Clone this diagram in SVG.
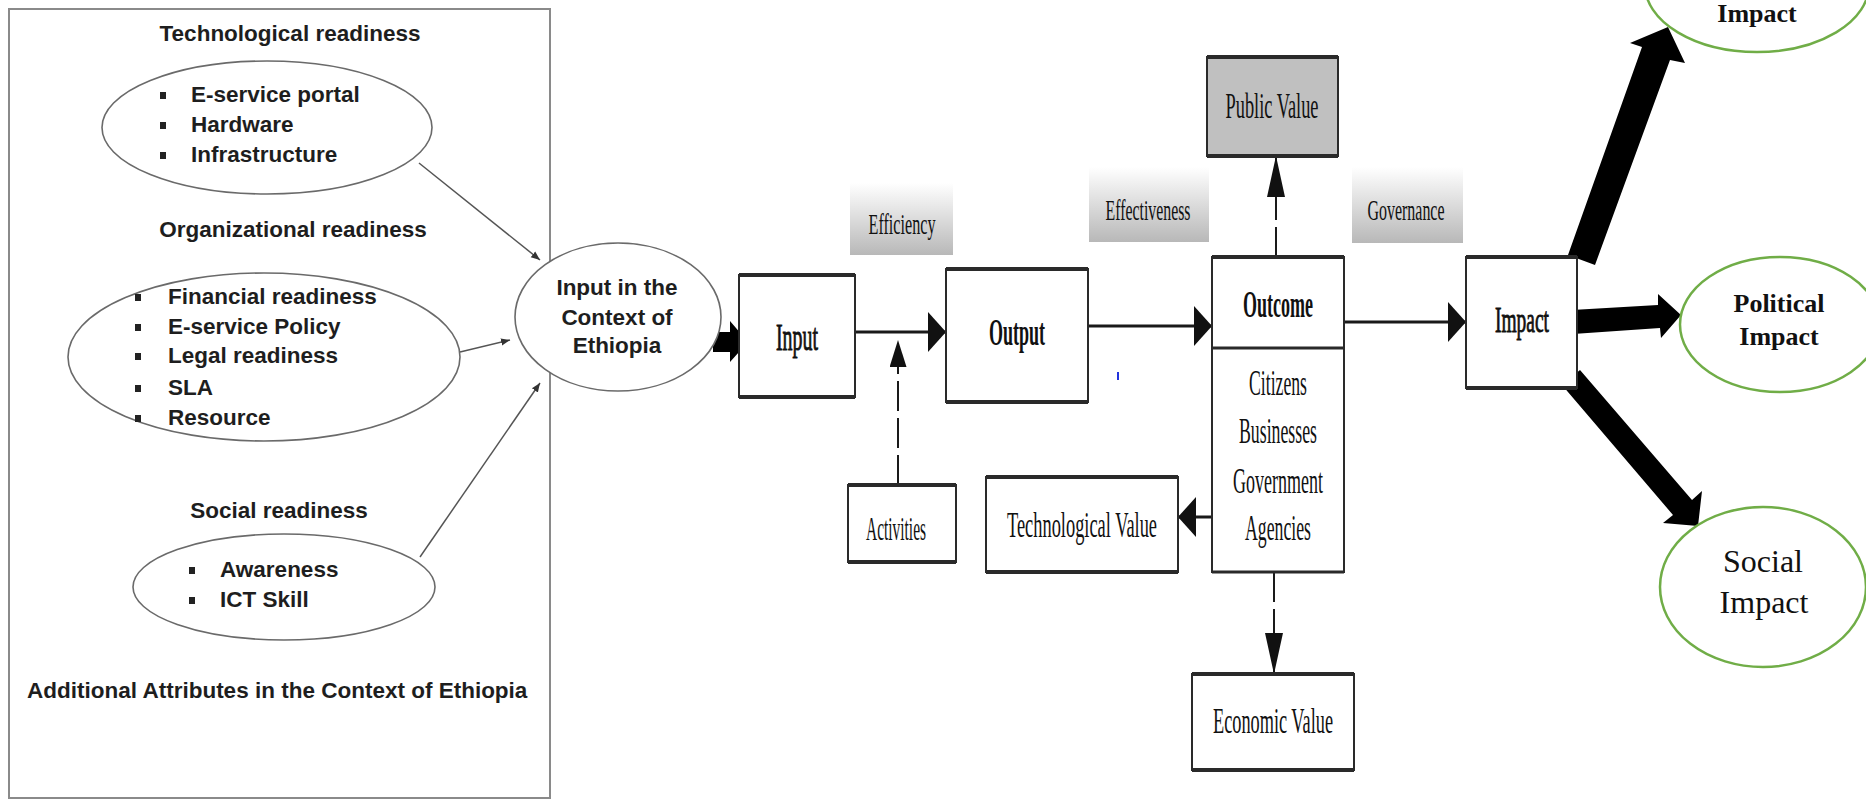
<svg xmlns="http://www.w3.org/2000/svg" width="1866" height="801" viewBox="0 0 1866 801">
<defs>
<style>
.sans{font-family:"Liberation Sans",Arial,sans-serif;font-weight:bold;font-size:22.5px;fill:#1e1e1e}
.serif{font-family:"Liberation Serif","Times New Roman",serif;fill:#111}
.mid{text-anchor:middle}
.med{stroke:#111;stroke-width:0.9}
.oval{fill:#fff;stroke:#6a6a6a;stroke-width:1.6}
.green{fill:#fff;stroke:#70ad47;stroke-width:2.5}
.box{fill:#fff;stroke:#2a2a2a;stroke-width:2}
.edge{stroke:#2a2a2a;stroke-width:4}
.thin{fill:none;stroke:#555;stroke-width:1.5}
.main{fill:none;stroke:#1a1a1a;stroke-width:3}
.dash{fill:none;stroke:#1a1a1a;stroke-width:2;stroke-dasharray:30 7}
.lbl{fill:url(#lg)}
</style>
<linearGradient id="lg" x1="0" y1="0" x2="0" y2="1">
<stop offset="0" stop-color="#ffffff"/>
<stop offset="1" stop-color="#b8b8b8"/>
</linearGradient>
<marker id="sm" viewBox="0 0 10 10" refX="10" refY="5" markerWidth="9" markerHeight="9" markerUnits="userSpaceOnUse" orient="auto">
<path d="M0,1 L10,5 L0,9 z" fill="#333"/>
</marker>
<marker id="big" viewBox="0 0 18 40" refX="18" refY="20" markerWidth="18" markerHeight="40" markerUnits="userSpaceOnUse" orient="auto">
<path d="M0,0 L18,20 L0,40 z" fill="#111"/>
</marker>
<marker id="tall" viewBox="0 0 41 18" refX="41" refY="9" markerWidth="41" markerHeight="18" markerUnits="userSpaceOnUse" orient="auto">
<path d="M0,0 L41,9 L0,18 z" fill="#111"/>
</marker>
<marker id="short" viewBox="0 0 27 17" refX="27" refY="8.5" markerWidth="27" markerHeight="17" markerUnits="userSpaceOnUse" orient="auto">
<path d="M0,0 L27,8.5 L0,17 z" fill="#111"/>
</marker>
</defs>

<g id="panel">
<rect x="9" y="9" width="541" height="789" fill="#fff" stroke="#8a8a8a" stroke-width="2"/>
<text class="sans mid" x="290" y="41">Technological readiness</text>
<text class="sans mid" x="293" y="237">Organizational readiness</text>
<text class="sans mid" x="279" y="518">Social readiness</text>
<text class="sans" x="27" y="698">Additional Attributes in the Context of Ethiopia</text>
</g>

<g id="connectors">
<path class="thin" d="M419,163 L540,260" marker-end="url(#sm)"/>
<path class="thin" d="M460,352 L510,340" marker-end="url(#sm)"/>
<path class="thin" d="M420,557 L540,383" marker-end="url(#sm)"/>
<polygon points="713,332 730,332 730,321 748,342 730,362 730,352 713,352" fill="#000"/>
<path class="main" d="M855,332 H946" marker-end="url(#big)"/>
<path class="main" d="M1088,326 H1212" marker-end="url(#big)"/>
<path class="main" d="M1344,322 H1466" marker-end="url(#big)"/>
<path class="main" d="M1212,517 H1178" marker-end="url(#big)"/>
<path class="dash" d="M898,485 V340" marker-end="url(#short)"/>
<path class="dash" d="M1276,257 V156" marker-end="url(#tall)"/>
<path class="dash" d="M1274,572 V674" marker-end="url(#tall)"/>
<polygon points="1568,255 1642,47 1630,43 1668,27 1685,63 1670,60 1595,265" fill="#000"/>
<polygon points="1572,310 1658,305 1658,294 1681,315 1661,338 1660,328 1573,334" fill="#000"/>
<polygon points="1562,385 1673,515 1663,523 1698,526 1702,491 1692,500 1580,370" fill="#000"/>
<line x1="1118" y1="372" x2="1118" y2="380" stroke="#2233dd" stroke-width="2"/>
</g>

<g id="tech-readiness">
<ellipse class="oval" cx="267" cy="127.5" rx="165" ry="66.5"/>
<rect x="160" y="92" width="6" height="7" fill="#222"/>
<rect x="160" y="122" width="6" height="7" fill="#222"/>
<rect x="160" y="152" width="6" height="7" fill="#222"/>
<text class="sans" x="191" y="102">E-service portal</text>
<text class="sans" x="191" y="132">Hardware</text>
<text class="sans" x="191" y="162">Infrastructure</text>
</g>

<g id="org-readiness">
<ellipse class="oval" cx="264" cy="357" rx="196" ry="84"/>
<rect x="135" y="294" width="6" height="7" fill="#222"/>
<rect x="135" y="324" width="6" height="7" fill="#222"/>
<rect x="135" y="353" width="6" height="7" fill="#222"/>
<rect x="135" y="385" width="6" height="7" fill="#222"/>
<rect x="135" y="415" width="6" height="7" fill="#222"/>
<text class="sans" x="168" y="304">Financial readiness</text>
<text class="sans" x="168" y="334">E-service Policy</text>
<text class="sans" x="168" y="363">Legal readiness</text>
<text class="sans" x="168" y="395">SLA</text>
<text class="sans" x="168" y="425">Resource</text>
</g>

<g id="social-readiness">
<ellipse class="oval" cx="284" cy="587" rx="151" ry="53"/>
<rect x="189" y="567" width="6" height="7" fill="#222"/>
<rect x="189" y="597" width="6" height="7" fill="#222"/>
<text class="sans" x="220" y="577">Awareness</text>
<text class="sans" x="220" y="607">ICT Skill</text>
</g>

<g id="input-context">
<ellipse class="oval" cx="618" cy="317" rx="103" ry="74"/>
<text class="sans mid" x="617" y="295">Input in the</text>
<text class="sans mid" x="617" y="325">Context of</text>
<text class="sans mid" x="617" y="353">Ethiopia</text>
</g>

<g id="input">
<rect class="box" x="739" y="275" width="116" height="122"/>
<line class="edge" x1="739" y1="275" x2="855" y2="275"/>
<line class="edge" x1="739" y1="397" x2="855" y2="397"/>
<text class="serif mid med" transform="translate(797,350) scale(0.5,1)" font-size="38" textLength="84" lengthAdjust="spacingAndGlyphs">Input</text>
</g>

<g id="efficiency">
<rect class="lbl" x="850" y="183" width="103" height="72"/>
<text class="serif mid" transform="translate(902,234) scale(0.5,1)" font-size="30" textLength="134" lengthAdjust="spacingAndGlyphs">Efficiency</text>
</g>

<g id="activities">
<rect class="box" x="848" y="485" width="108" height="77"/>
<line class="edge" x1="848" y1="485" x2="956" y2="485"/>
<line class="edge" x1="848" y1="562" x2="956" y2="562"/>
<text class="serif mid" transform="translate(896,540) scale(0.5,1)" font-size="33" textLength="120" lengthAdjust="spacingAndGlyphs">Activities</text>
</g>

<g id="output">
<rect class="box" x="946" y="269" width="142" height="133"/>
<line class="edge" x1="946" y1="269" x2="1088" y2="269"/>
<line class="edge" x1="946" y1="402" x2="1088" y2="402"/>
<text class="serif mid" transform="translate(1017,345) scale(0.5,1)" font-size="38" font-weight="bold" textLength="112" lengthAdjust="spacingAndGlyphs">Output</text>
</g>

<g id="effectiveness">
<rect class="lbl" x="1089" y="167" width="120" height="75"/>
<text class="serif mid" transform="translate(1148,220) scale(0.5,1)" font-size="30" textLength="170" lengthAdjust="spacingAndGlyphs">Effectiveness</text>
</g>

<g id="public-value">
<rect x="1207" y="57" width="131" height="99" fill="#c0c0c0" stroke="#2a2a2a" stroke-width="2"/>
<line class="edge" x1="1207" y1="57" x2="1338" y2="57"/>
<line class="edge" x1="1207" y1="156" x2="1338" y2="156"/>
<text class="serif mid" transform="translate(1272,118) scale(0.5,1)" font-size="36" textLength="186" lengthAdjust="spacingAndGlyphs">Public Value</text>
</g>

<g id="governance">
<rect class="lbl" x="1352" y="167" width="111" height="76"/>
<text class="serif mid" transform="translate(1406,220) scale(0.5,1)" font-size="30" textLength="154" lengthAdjust="spacingAndGlyphs">Governance</text>
</g>

<g id="outcome">
<rect class="box" x="1212" y="257" width="132" height="315"/>
<line class="edge" x1="1212" y1="257" x2="1344" y2="257"/>
<line x1="1212" y1="348" x2="1344" y2="348" stroke="#2a2a2a" stroke-width="3"/>
<line x1="1212" y1="572" x2="1344" y2="572" stroke="#2a2a2a" stroke-width="3"/>
<text class="serif mid" transform="translate(1278,317) scale(0.5,1)" font-size="38" font-weight="bold" textLength="140" lengthAdjust="spacingAndGlyphs">Outcome</text>
<text class="serif mid" transform="translate(1278,395) scale(0.5,1)" font-size="36" textLength="116" lengthAdjust="spacingAndGlyphs">Citizens</text>
<text class="serif mid" transform="translate(1278,443) scale(0.5,1)" font-size="36" textLength="156" lengthAdjust="spacingAndGlyphs">Businesses</text>
<text class="serif mid" transform="translate(1278,493) scale(0.5,1)" font-size="36" textLength="180" lengthAdjust="spacingAndGlyphs">Government</text>
<text class="serif mid" transform="translate(1278,540) scale(0.5,1)" font-size="36" textLength="132" lengthAdjust="spacingAndGlyphs">Agencies</text>
</g>

<g id="technological-value">
<rect class="box" x="986" y="477" width="192" height="95"/>
<line class="edge" x1="986" y1="477" x2="1178" y2="477"/>
<line class="edge" x1="986" y1="572" x2="1178" y2="572"/>
<text class="serif mid" transform="translate(1082,537) scale(0.5,1)" font-size="36" textLength="300" lengthAdjust="spacingAndGlyphs">Technological Value</text>
</g>

<g id="economic-value">
<rect class="box" x="1192" y="674" width="162" height="96"/>
<line class="edge" x1="1192" y1="674" x2="1354" y2="674"/>
<line class="edge" x1="1192" y1="770" x2="1354" y2="770"/>
<text class="serif mid" transform="translate(1273,733) scale(0.5,1)" font-size="36" textLength="240" lengthAdjust="spacingAndGlyphs">Economic Value</text>
</g>

<g id="impact">
<rect class="box" x="1466" y="257" width="111" height="131" stroke="#555"/>
<line class="edge" x1="1466" y1="257" x2="1577" y2="257" stroke="#444"/>
<line class="edge" x1="1466" y1="388" x2="1577" y2="388" stroke="#444"/>
<text class="serif mid med" transform="translate(1522,332) scale(0.5,1)" font-size="36" textLength="108" lengthAdjust="spacingAndGlyphs">Impact</text>
</g>

<g id="top-impact">
<ellipse class="green" cx="1757" cy="-15" rx="112" ry="67"/>
<text class="serif mid" x="1757" y="22" font-size="26" font-weight="bold">Impact</text>
</g>

<g id="political-impact">
<ellipse class="green" cx="1780" cy="324.5" rx="100" ry="67.5"/>
<text class="serif mid" x="1779" y="312" font-size="26" font-weight="bold">Political</text>
<text class="serif mid" x="1779" y="345" font-size="26" font-weight="bold">Impact</text>
</g>

<g id="social-impact">
<ellipse class="green" cx="1763" cy="587" rx="103" ry="80"/>
<text class="serif mid" x="1763" y="572" font-size="32">Social</text>
<text class="serif mid" x="1764" y="613" font-size="32">Impact</text>
</g>
</svg>
